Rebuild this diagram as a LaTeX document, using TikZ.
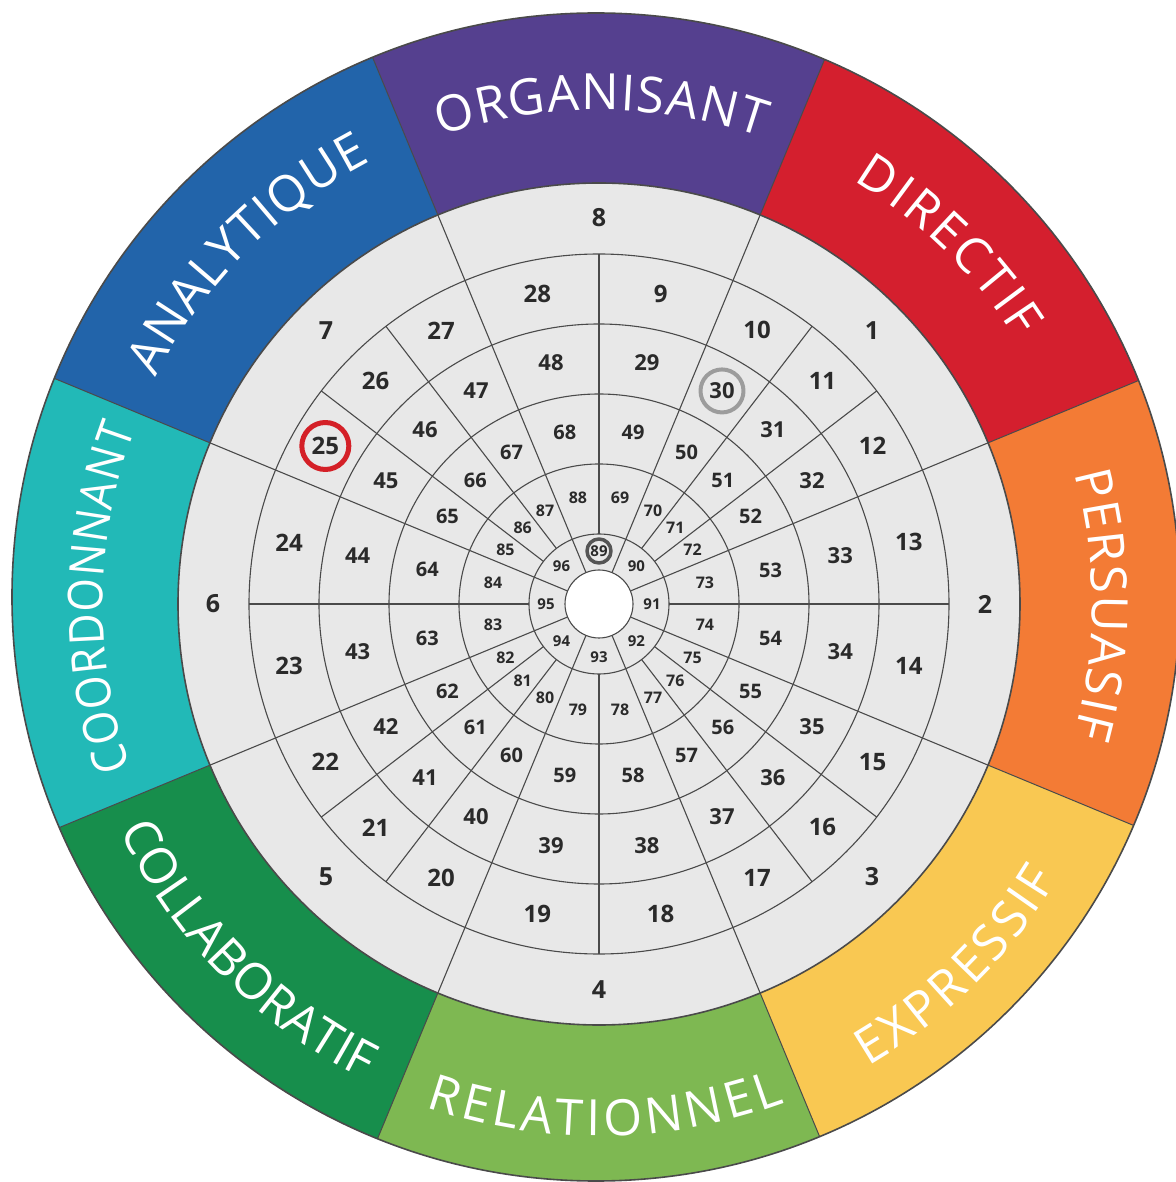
\documentclass[tikz,border=0pt]{standalone}
\usepackage{fontspec}
\setmainfont{Open Sans}
\newfontfamily\numfont{Open Sans}
\newfontfamily\lblfam{Open Sans}
\newfontfamily\lblnarrow{Open Sans}[FakeStretch=0.9]
\usetikzlibrary{decorations.text}
\definecolor{cOrg}{HTML}{55408F}
\definecolor{cDir}{HTML}{D41F2E}
\definecolor{cPer}{HTML}{F37B35}
\definecolor{cExp}{HTML}{F9C852}
\definecolor{cRel}{HTML}{7EB852}
\definecolor{cCol}{HTML}{178E4C}
\definecolor{cCoo}{HTML}{22B9B7}
\definecolor{cAna}{HTML}{2264AA}
\definecolor{discC}{HTML}{E8E8E8}
\definecolor{lineC}{HTML}{4A4A4A}
\definecolor{numC}{HTML}{2A2A2A}
\definecolor{hlRed}{HTML}{D42027}
\definecolor{hlGray}{HTML}{9C9C9C}
\definecolor{hlDark}{HTML}{555555}
\newcommand\lblstyle{\lblfam\fontsize{50}{50}\selectfont}
\newcommand\lblnarrowstyle{\lblnarrow\fontsize{48}{48}\selectfont}
\tikzset{
  sepline/.style={draw=lineC, line width=1},
  gridline/.style={draw=lineC, line width=1.1},
  ringline/.style={draw=lineC, line width=1.1},
  numbase/.style={text=numC, inner sep=0},
  numA/.style={numbase, font=\numfont\bfseries\fontsize{25}{25}\selectfont},
  numB/.style={numbase, font=\numfont\bfseries\fontsize{24}{24}\selectfont},
  numC/.style={numbase, font=\numfont\bfseries\fontsize{22}{22}\selectfont},
  numD/.style={numbase, font=\numfont\bfseries\fontsize{20}{20}\selectfont},
  numE/.style={numbase, font=\numfont\bfseries\fontsize{16}{16}\selectfont},
  numF/.style={numbase, font=\numfont\bfseries\fontsize{15}{15}\selectfont},
  hlbox/.style={circle, inner sep=0},
  fitlabel/.style={decorate, decoration={text along path, text align=fit to path, text color=white, text={|\lblstyle|#1}}},
  narrowlabel/.style={decorate, decoration={text along path, text align=fit to path, text color=white, text={|\lblnarrowstyle|#1}}},
}
\begin{document}
\begin{tikzpicture}[x=1pt,y=1pt,line join=round]
\useasboundingbox (-599,-578) rectangle (576,604);
% coloured ring
\begin{scope}
  \clip (-3,7) circle[radius=584];
  \foreach \ang/\col in {90/cOrg,45/cDir,0/cPer,-45/cExp,-90/cRel,-135/cCol,180/cCoo,135/cAna}{
    \fill[\col] (0,0) -- (\ang-22.5:800) arc[start angle=\ang-22.5, end angle=\ang+22.5, radius=800] -- cycle;
  }
  \foreach \k in {0,...,7} \draw[sepline] (22.5+45*\k:421) -- (22.5+45*\k:800);
\end{scope}
\draw[draw=lineC, line width=1.6] (-3,7) circle[radius=584];
% grey disc
\fill[discC] (0,0) circle[radius=421];
\foreach \r in {70,140,210,280,350} \draw[ringline] (0,0) circle[radius=\r];
\draw[draw=lineC, line width=1.6] (0,0) circle[radius=421];
\foreach \k in {0,...,7} \draw[gridline] (22.5+45*\k:34) -- (22.5+45*\k:421);
\foreach \k in {0,...,3} {
  \draw[gridline] (90*\k:70) -- (90*\k:350);
  \draw[gridline] (37.5+90*\k:70) -- (37.5+90*\k:350);
  \draw[gridline] (52.5+90*\k:70) -- (52.5+90*\k:350);
}
\filldraw[fill=white, draw=lineC, line width=1.1] (0,0) circle[radius=34];
% numbers
\foreach \k in {1,...,8} \node[numA] (n\k) at ({90-45*\k}:386) {\k};
\foreach \a [count=\i from 0] in {78.75,60,45,30,11.25,-11.25,-30,-45,-60,-78.75,-101.25,-120,-135,-150,-168.75,168.75,150,135,120,101.25} {
  \pgfmathtruncatemacro\nb{9+\i}
  \pgfmathtruncatemacro\nc{29+\i}
  \pgfmathtruncatemacro\nd{49+\i}
  \pgfmathtruncatemacro\ne{69+\i}
  \node[numB] (n\nb) at (\a:316) {\nb};
  \node[numC] (n\nc) at (\a:246) {\nc};
  \node[numD] (n\nd) at (\a:175) {\nd};
  \node[numE] (n\ne) at (\a:108) {\ne};
}
\foreach \k in {0,...,7} {
  \pgfmathtruncatemacro\nf{89+\k}
  \node[numF] (n\nf) at ({90-45*\k}:53) {\nf};
}
% highlights
\node[hlbox, draw=hlRed, line width=5, minimum size=47] (h25) at (n25) {};
\node[hlbox, draw=hlGray, line width=4, minimum size=43] (h30) at (n30) {};
\node[hlbox, draw=hlDark, line width=3.5, minimum size=24] (h89) at (n89) {};
% labels, clockwise (tops outward)
\path[fitlabel=ORGANISANT] (108.7:494) arc[start angle=108.7, end angle=70.8, radius=494];
\path[fitlabel=DIRECTIF] (59:494) arc[start angle=59, end angle=32.5, radius=494];
\path[fitlabel=PERSUASIF] (15.3:493) arc[start angle=15.3, end angle=-15.5, radius=493];
\path[narrowlabel=COORDONNANT] (199.2:496) arc[start angle=199.2, end angle=159.3, radius=496];
\path[fitlabel=ANALYTIQUE] (153:498) arc[start angle=153, end angle=117.3, radius=498];
% labels, counter-clockwise (tops inward)
\path[fitlabel=EXPRESSIF] (-59.8:535) arc[start angle=-59.8, end angle=-31, radius=535];
\path[fitlabel=RELATIONNEL] (-109:532) arc[start angle=-109, end angle=-69.6, radius=532];
\path[fitlabel=COLLABORATIF] (-154.7:530) arc[start angle=-154.7, end angle=-116.6, radius=530];
\end{tikzpicture}
\end{document}
